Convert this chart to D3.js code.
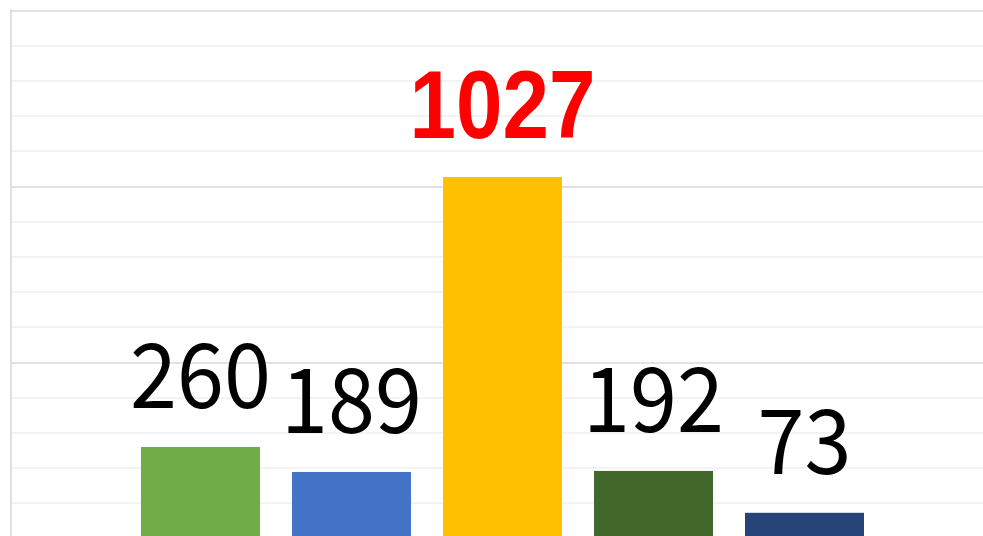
<!DOCTYPE html>
<html>
<head>
<meta charset="utf-8">
<script src="https://cdn.jsdelivr.net/npm/d3@7"></script>
<style>
body { margin: 0; background: #fff; }
svg { display: block; }
</style>
</head>
<body>
<svg id="chart"></svg>
<script>
var width = 983;
var height = 536;

// data
var categories = ["A", "B", "C", "D", "E"];
var values = [260, 189, 1027, 192, 73];
var colors = ["#70AD47", "#4472C4", "#FFC000", "#43682B", "#264478"];
var highlight = [false, false, true, false, false];
var yMax = 1500;
var minorStep = 100;
var majorStep = 500;

var plotLeft = 11;
var plotTop = 10.5;
var plotBottom = 538.5;

var svg = d3.select("#chart")
	.attr("width", width)
	.attr("height", height);

var x = d3.scaleBand()
	.domain(categories)
	.range([125, 880])
	.paddingInner(32/151)
	.paddingOuter(16/151);

var y = d3.scaleLinear()
	.domain([0, yMax])
	.range([plotBottom, plotTop]);

// gridlines
var minorTicks = d3.range(0, yMax + 1, minorStep);
svg.append("g").attr("class", "grid")
	.selectAll("line").data(minorTicks)
	.enter().append("line")
	.attr("x1", plotLeft)
	.attr("x2", width)
	.attr("y1", function(d) { return Math.round(y(d)); })
	.attr("y2", function(d) { return Math.round(y(d)); })
	.attr("stroke", function(d) { return d % majorStep == 0 ? "#d9d9d9" : "#efefef"; })
	.attr("stroke-width", 1.6);

// left axis line
svg.append("line")
	.attr("x1", plotLeft).attr("x2", plotLeft)
	.attr("y1", y(yMax) - 1).attr("y2", height)
	.attr("stroke", "#d9d9d9")
	.attr("stroke-width", 1.6);

// bars
svg.append("g").attr("class", "bars")
	.selectAll("rect").data(values)
	.enter().append("rect")
	.attr("x", function(d, i) { return x(categories[i]); })
	.attr("y", function(d) { return y(d); })
	.attr("width", x.bandwidth())
	.attr("height", function(d) { return y(0) - y(d); })
	.attr("fill", function(d, i) { return colors[i]; });

// labels (slightly condensed like the original font)
svg.append("g").attr("class", "labels")
	.selectAll("text").data(values)
	.enter().append("text")
	.attr("transform", function(d, i) {
		var cx = x(categories[i]) + x.bandwidth()/2;
		var s = highlight[i] ? 0.87 : 0.94;
		return "translate(" + [cx, y(d) - 39] + ") scale(" + s + ",1)";
	})
	.attr("text-anchor", "middle")
	.attr("font-family", function(d, i) {
		return highlight[i] ? "'Liberation Sans', Arial, sans-serif"
			: "'Noto Sans CJK JP', 'Liberation Sans', sans-serif";
	})
	.attr("font-size", function(d, i) { return highlight[i] ? 96 : 90; })
	.attr("font-weight", function(d, i) { return highlight[i] ? "bold" : "normal"; })
	.attr("fill", function(d, i) { return highlight[i] ? "#FF0000" : "#000"; })
	.text(function(d) { return d; });
</script>
</body>
</html>
